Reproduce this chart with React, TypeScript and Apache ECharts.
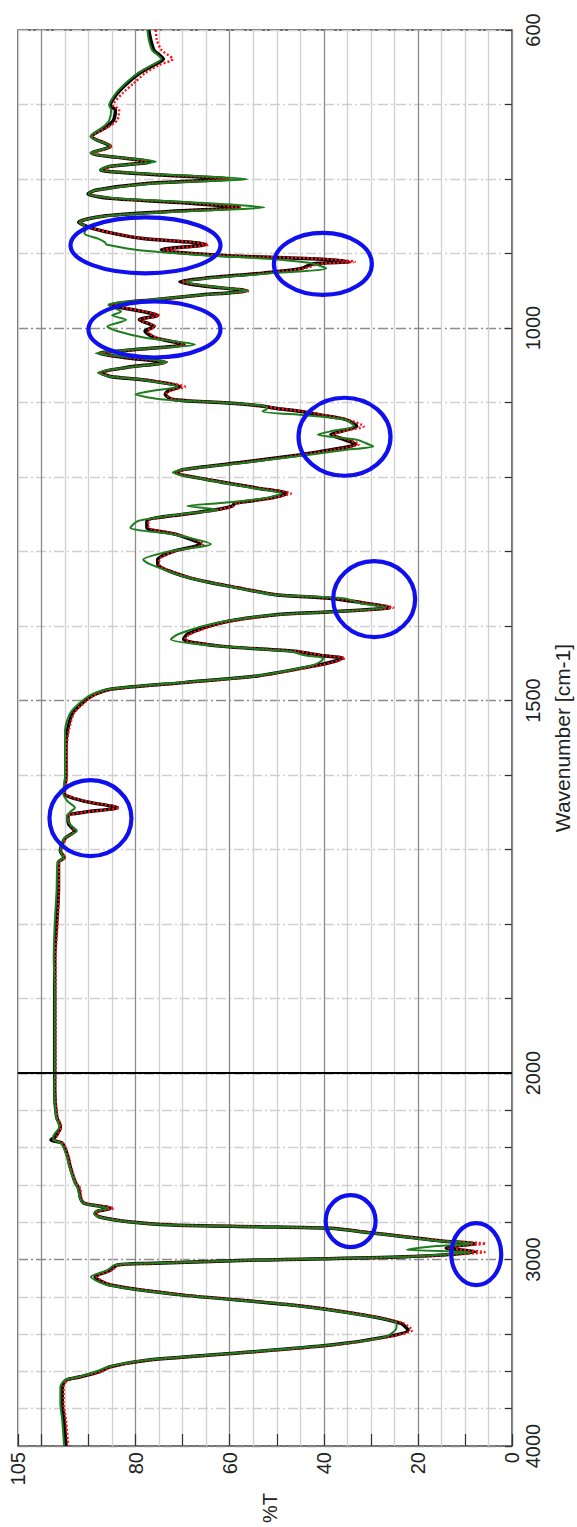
import React, { useEffect, useRef } from "react";
import * as echarts from "echarts";

// Wavenumber grid (cm-1) shared by the three spectra
const wavenumbers = [
  600, 613, 627, 639, 647, 658, 672, 685, 701, 707, 721, 730, 743, 756, 765, 777, 783, 788, 794, 800,
  806, 815, 820, 826, 832, 838, 844, 850, 858, 866, 873, 880, 885, 888, 895, 898, 903, 907, 911, 914,
  920, 926, 933, 938, 944, 950, 956, 962, 969, 978, 983, 989, 998, 1004, 1013, 1022, 1029, 1034, 1040, 1046,
  1053, 1060, 1065, 1070, 1079, 1084, 1089, 1096, 1100, 1104, 1108, 1112, 1117, 1123, 1132, 1138, 1143, 1150, 1156, 1159,
  1164, 1170, 1181, 1190, 1194, 1203, 1215, 1222, 1229, 1235, 1239, 1244, 1250, 1259, 1268, 1277, 1290, 1300, 1311, 1317,
  1335, 1349, 1358, 1363, 1369, 1375, 1381, 1385, 1396, 1411, 1418, 1427, 1434, 1440, 1443, 1447, 1453, 1467, 1476, 1485,
  1494, 1516, 1540, 1561, 1601, 1624, 1635, 1644, 1650, 1655, 1666, 1675, 1685, 1702, 1711, 1717, 1755, 1800, 1845, 1890,
  1950, 2000, 2091, 2234, 2288, 2340, 2359, 2377, 2449, 2494, 2583, 2619, 2672, 2699, 2726, 2740, 2753, 2771, 2798, 2815,
  2824, 2833, 2855, 2878, 2901, 2915, 2928, 2938, 2948, 2960, 2985, 3003, 3021, 3030, 3057, 3093, 3137, 3191, 3245, 3300,
  3343, 3379, 3415, 3459, 3504, 3540, 3575, 3602, 3629, 3647, 3683, 3772, 3862, 4000,
];

// %T of the black spectrum
const blackT = [
  77.2, 76.8, 76.1, 74.1, 76.1, 79.2, 81.9, 83.9, 85.4, 84.3, 84.7, 86.2, 89.4, 85.4, 89.4, 76.8, 85.4, 87.4, 76.1, 60.4,
  77.6, 88.6, 90.1, 85.4, 69.8, 58.1, 73.7, 87.0, 92.1, 89.4, 84.7, 78.4, 68.2, 65.1, 74.5, 72.1, 60.4, 42.4, 34.6, 42.4,
  44.8, 52.6, 65.1, 70.6, 65.1, 56.5, 66.7, 76.1, 85.4, 78.4, 75.3, 79.2, 76.1, 78.0, 76.0, 69.8, 80.0, 87.8, 82.0, 73.7,
  82.0, 87.4, 85.4, 77.6, 70.6, 73.0, 73.7, 72.1, 62.0, 54.1, 50.0, 44.8, 40.5, 35.3, 33.0, 36.0, 38.5, 35.5, 33.3, 34.5,
  39.0, 44.8, 58.1, 69.8, 71.4, 65.1, 54.1, 47.9, 52.0, 58.8, 59.5, 63.0, 69.8, 77.6, 77.6, 71.4, 66.3, 72.1, 75.3, 75.3,
  68.7, 58.1, 50.2, 38.5, 31.5, 26.0, 38.5, 50.2, 62.0, 69.0, 69.8, 62.0, 46.3, 40.0, 36.1, 37.5, 41.6, 54.1, 69.8, 85.4,
  89.4, 93.3, 94.5, 94.8, 94.8, 95.2, 91.0, 83.9, 91.0, 94.4, 94.2, 93.0, 95.0, 96.0, 95.2, 96.4, 96.4, 96.8, 97.2, 97.2,
  97.2, 97.2, 97.2, 96.8, 96.0, 97.0, 98.0, 95.6, 94.4, 94.0, 92.9, 92.1, 91.7, 90.9, 85.4, 88.0, 88.6, 87.8, 81.5, 72.1,
  54.1, 38.5, 30.7, 22.8, 15.0, 7.9, 12.0, 14.0, 11.0, 7.9, 22.8, 54.1, 77.6, 83.9, 85.4, 88.6, 85.4, 69.8, 46.3, 31.0,
  23.6, 22.1, 26.8, 38.5, 59.6, 77.6, 85.4, 87.8, 91.7, 94.8, 95.6, 95.6, 95.2, 94.8,
];

// %T of the red (dotted) spectrum
const redT = [
  75.7, 75.5, 74.5, 72.1, 75.0, 78.0, 80.5, 82.8, 84.8, 83.5, 83.9, 85.8, 89.2, 85.0, 89.0, 77.5, 85.0, 87.0, 75.5, 60.0,
  77.0, 88.2, 89.8, 85.0, 69.0, 57.8, 73.2, 86.8, 92.0, 89.2, 84.5, 78.0, 67.5, 64.5, 74.0, 71.5, 60.0, 41.5, 33.4, 41.0,
  44.0, 52.0, 64.5, 70.2, 64.5, 55.8, 66.2, 75.8, 85.0, 78.0, 75.0, 79.0, 75.8, 77.5, 75.5, 69.5, 79.8, 87.6, 81.5, 73.3,
  81.8, 87.2, 85.2, 77.3, 69.5, 72.5, 73.5, 71.8, 61.5, 53.8, 49.8, 44.5, 40.0, 34.8, 31.5, 35.5, 38.0, 35.0, 32.5, 34.0,
  38.5, 44.5, 57.8, 69.5, 71.2, 64.8, 53.8, 47.0, 51.5, 58.5, 59.2, 62.5, 69.5, 77.3, 77.2, 71.0, 65.5, 71.8, 75.0, 75.0,
  68.3, 57.8, 49.8, 38.0, 31.0, 25.2, 38.0, 49.8, 61.5, 68.5, 69.5, 61.5, 45.8, 39.5, 35.5, 37.0, 41.0, 53.8, 69.2, 85.0,
  89.0, 93.0, 94.2, 94.6, 94.6, 95.0, 90.8, 83.5, 90.8, 94.2, 94.0, 93.0, 94.8, 95.8, 95.0, 96.3, 96.3, 96.6, 97.0, 97.0,
  97.0, 97.0, 97.1, 96.6, 95.8, 96.8, 97.0, 95.4, 94.2, 93.8, 92.7, 91.8, 91.5, 90.7, 84.6, 87.8, 88.4, 87.6, 81.2, 71.8,
  53.8, 38.2, 30.3, 22.3, 14.2, 5.6, 11.5, 13.5, 10.5, 5.8, 22.3, 53.8, 77.3, 83.6, 85.0, 88.3, 85.0, 69.4, 45.8, 30.5,
  23.0, 21.2, 26.3, 38.0, 59.0, 77.2, 85.0, 87.2, 91.5, 94.5, 95.3, 95.3, 94.8, 94.3,
];

// %T of the green spectrum
const greenT = [
  77.5, 77.2, 76.5, 74.5, 76.5, 79.5, 82.2, 84.2, 85.6, 85.2, 85.6, 86.9, 89.6, 85.4, 89.6, 75.7, 85.8, 87.6, 74.0, 56.3,
  76.0, 88.6, 90.0, 84.5, 66.0, 52.6, 72.0, 87.0, 92.0, 90.5, 90.9, 88.0, 86.5, 86.2, 80.0, 75.0, 64.0, 52.0, 45.0, 42.0,
  39.5, 50.0, 64.0, 69.5, 64.5, 56.0, 66.7, 77.0, 85.8, 83.1, 85.0, 82.0, 86.0, 84.0, 78.0, 67.4, 81.0, 88.5, 80.0, 73.3,
  82.0, 88.0, 85.6, 78.0, 71.0, 76.0, 80.0, 74.0, 62.0, 53.0, 52.0, 53.0, 44.0, 35.5, 33.5, 38.0, 41.3, 33.0, 30.5, 29.5,
  36.0, 43.0, 57.0, 70.0, 72.1, 65.5, 55.0, 49.0, 53.0, 62.0, 69.0, 62.5, 70.5, 79.5, 81.1, 72.0, 64.0, 73.0, 78.4, 77.0,
  69.0, 58.5, 50.5, 35.5, 32.5, 26.8, 38.5, 50.5, 63.0, 71.0, 72.5, 62.5, 47.5, 43.5, 40.1, 40.5, 42.5, 54.5, 70.5, 86.0,
  90.0, 93.8, 95.0, 95.0, 95.0, 95.4, 94.5, 92.9, 94.0, 94.6, 94.0, 92.5, 95.2, 96.0, 95.3, 96.6, 96.8, 97.2, 97.4, 97.2,
  97.2, 97.2, 97.3, 96.9, 96.2, 97.5, 97.5, 95.8, 94.6, 94.2, 93.0, 92.3, 91.8, 91.0, 86.0, 88.4, 88.8, 88.0, 81.8, 72.5,
  54.5, 39.0, 31.0, 23.2, 15.3, 8.5, 16.0, 20.0, 22.4, 8.5, 23.0, 54.0, 77.8, 84.5, 86.0, 89.5, 86.0, 70.2, 46.8, 31.5,
  24.5, 24.8, 27.0, 38.8, 60.0, 78.0, 85.8, 88.5, 92.0, 95.0, 96.0, 96.0, 95.6, 95.2,
];

// Axis tick labels
const transmittanceLabels = [0, 20, 40, 60, 80, 105];
const upperWavenumberLabels = [600, 1000, 1500];
const lowerWavenumberLabels = [2000, 3000, 4000];

// Circled bands: [wavenumber, %T] centres and their ellipse radii (px)
const circledBands = [
  [889, 77.9], [914, 40.2], [1002, 76.0], [1146, 35.6],
  [1364, 29.3], [1658, 89.6], [2794, 34.3], [2971, 7.6],
];
const circleRadii = [
  [75, 28], [49, 31], [66, 28], [46, 39],
  [41, 38], [41, 38], [25, 26], [25, 31],
];

const FONT = "'Liberation Sans', Arial, sans-serif";
const LABEL_COLOR = "#222";

export default function App() {
  const ref = useRef<HTMLDivElement>(null);

  useEffect(() => {
    document.body.style.margin = "0";
    if (!ref.current) return;
    const chart = echarts.init(ref.current, null, { renderer: "svg" });

    const pairs = (vals: number[], lo: number, hi: number) =>
      wavenumbers
        .map((w, i) => [vals[i], w])
        .filter((p) => p[1] >= lo && p[1] <= hi);

    const left = 18;
    const width = 494;
    const topY = 30;
    const breakY = 1073;
    const bottomY = 1446;

    const xAxis = (gridIndex: number, show: boolean) => ({
      gridIndex,
      type: "value",
      min: 0,
      max: 105,
      interval: 5,
      inverse: true,
      position: "bottom",
      axisLine: { show: false },
      axisTick: { show: false },
      axisLabel: {
        show,
        customValues: transmittanceLabels,
        formatter: (v: number) => String(v),
        rotate: 90,
        margin: 6,
        fontSize: 20,
        fontFamily: FONT,
        color: LABEL_COLOR,
      },
      splitLine: {
        show: true,
        lineStyle: { color: ["#8c8c8c", "#d0d0d0", "#d0d0d0", "#d0d0d0"], width: 1.3 },
      },
    });

    // tick-only axis along the bottom edge (ticks every 10 %T)
    const tickAxis = {
      gridIndex: 1,
      type: "value",
      min: 0,
      max: 105,
      interval: 10,
      inverse: true,
      position: "bottom",
      axisLine: { show: false },
      axisTick: { show: true, inside: true, length: 12, lineStyle: { color: "#333", width: 1.2 } },
      axisLabel: { show: false },
      splitLine: { show: false },
    };

    const yAxis = (gridIndex: number, min: number, max: number, interval: number, labels: number[], colors: string[]) => ({
      gridIndex,
      type: "value",
      min,
      max,
      interval,
      inverse: true,
      position: "right",
      axisLine: { show: false },
      axisTick: { show: true, inside: true, length: 7, lineStyle: { color: "#333", width: 1.2 } },
      axisLabel: {
        customValues: labels,
        formatter: (v: number) => String(v),
        rotate: 90,
        margin: 11,
        fontSize: 20,
        fontFamily: FONT,
        color: LABEL_COLOR,
      },
      splitLine: {
        show: true,
        lineStyle: { color: colors, width: 1.3, type: [10, 3, 2, 3] },
      },
    });

    const lineSeries = (
      name: string,
      vals: number[],
      gridIndex: number,
      style: any,
      extra: any = {}
    ) => ({
      name,
      type: "line",
      xAxisIndex: gridIndex,
      yAxisIndex: gridIndex,
      data: gridIndex === 0 ? pairs(vals, 600, 2000) : pairs(vals, 2000, 4000),
      showSymbol: false,
      symbol: "none",
      smooth: 0.25,
      lineStyle: style,
      z: style.z,
      ...extra,
    });

    const blackStyle = { color: "#000", width: 3.5, z: 2 };
    const redStyle = { color: "#ff1010", width: 2.4, type: [2, 2], z: 3 };
    const greenStyle = { color: "#1e7d1e", width: 2, z: 4 };

    const option: any = {
      animation: false,
      backgroundColor: "#fff",
      grid: [
        { left, top: topY, width, height: breakY - topY, show: true, borderColor: "#444", borderWidth: 1.5, backgroundColor: "transparent" },
        { left, top: breakY, width, height: bottomY - breakY, show: true, borderColor: "#444", borderWidth: 1.5, backgroundColor: "transparent" },
      ],
      xAxis: [xAxis(0, false), xAxis(1, true), tickAxis],
      yAxis: [
        yAxis(0, 600, 2000, 100, upperWavenumberLabels, ["#d0d0d0", "#d0d0d0", "#d0d0d0", "#d0d0d0", "#8c8c8c"]),
        yAxis(1, 2000, 4000, 200, lowerWavenumberLabels, ["#8c8c8c", "#d0d0d0", "#d0d0d0", "#d0d0d0", "#d0d0d0"]),
      ],
      series: [
        lineSeries("black", blackT, 0, blackStyle),
        lineSeries("black", blackT, 1, blackStyle, {
          markLine: {
            silent: true,
            symbol: "none",
            label: { show: false },
            lineStyle: { color: "#000", width: 2, type: "solid" },
            data: [{ yAxis: 2000 }],
          },
        }),
        lineSeries("red", redT, 0, redStyle),
        lineSeries("red", redT, 1, redStyle),
        lineSeries("green", greenT, 0, greenStyle),
        lineSeries("green", greenT, 1, greenStyle),
      ],
    };
    chart.setOption(option);

    const ellipses = circledBands.map(([wn, t], i) => {
      const gi = wn <= 2000 ? 0 : 1;
      const [cx, cy] = chart.convertToPixel({ gridIndex: gi }, [t, wn]) as number[];
      return {
        type: "ellipse",
        shape: { cx, cy, rx: circleRadii[i][0], ry: circleRadii[i][1] },
        style: { fill: "transparent", stroke: "#1010ee", lineWidth: 4.2 },
        z: 100,
      };
    });

    chart.setOption({
      graphic: [
        {
          type: "text",
          x: 270,
          y: 1508,
          rotation: Math.PI / 2,
          style: { text: "%T", fontSize: 20, fontFamily: FONT, fill: LABEL_COLOR, align: "center", verticalAlign: "middle" },
        },
        {
          type: "text",
          x: 562,
          y: 738,
          rotation: Math.PI / 2,
          style: { text: "Wavenumber [cm-1]", fontSize: 21, fontFamily: FONT, fill: LABEL_COLOR, align: "center", verticalAlign: "middle" },
        },
        ...ellipses,
      ],
    });

    return () => chart.dispose();
  }, []);

  return <div ref={ref} style={{ width: 577, height: 1527 }} />;
}
